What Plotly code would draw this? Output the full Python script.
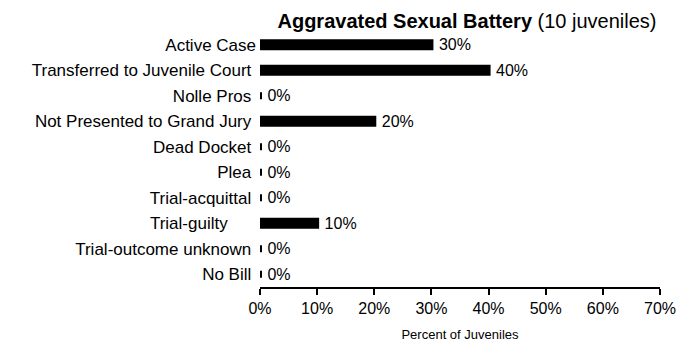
import plotly.graph_objects as go

# Case outcomes for juveniles charged with aggravated sexual battery
categories = [
    "Active Case",
    "Transferred to Juvenile Court\u00a0",
    "Nolle Pros\u00a0",
    "Not Presented to Grand Jury\u00a0",
    "Dead Docket\u00a0",
    "Plea\u00a0",
    "Trial-acquittal\u00a0",
    "Trial-guilty\u00a0\u00a0\u00a0\u00a0\u00a0\u00a0",
    "Trial-outcome unknown\u00a0",
    "No Bill\u00a0",
]
percents = [30, 40, 0, 20, 0, 0, 0, 10, 0, 0]
x_ticks = [0, 10, 20, 30, 40, 50, 60, 70]
x_tick_labels = [f"{v}%" for v in x_ticks]

FONT = "Liberation Sans, Arial, sans-serif"

fig = go.Figure(
    go.Bar(
        x=percents,
        y=categories,
        orientation="h",
        width=0.28,
        marker=dict(color="black", line=dict(color="black", width=4)),
        # leading non-breaking space keeps the value label clear of the bar end
        text=[f"\u00a0{p}%" for p in percents],
        textposition="outside",
        constraintext="none",
        textfont=dict(family=FONT, size=16, color="black"),
        cliponaxis=False,
    )
)

fig.update_layout(
    width=678,
    height=344,
    margin=dict(l=260, r=18, t=32, b=57, autoexpand=False),
    paper_bgcolor="white",
    plot_bgcolor="white",
    showlegend=False,
    font=dict(family=FONT, color="black"),
    title=dict(
        text="<b>Aggravated Sexual Battery</b> (10 juveniles)",
        font=dict(family=FONT, size=20, color="black"),
        x=467 / 678,
        xanchor="center",
        xref="container",
        y=1 - 21 / 344,
        yanchor="middle",
        yref="container",
    ),
    xaxis=dict(
        range=[0, 70],
        tickvals=x_ticks,
        ticktext=x_tick_labels,
        automargin=False,
        showgrid=False,
        zeroline=False,
        showline=True,
        linecolor="black",
        linewidth=1.5,
        ticks="outside",
        ticklen=6,
        tickwidth=1.5,
        tickcolor="black",
        ticklabelstandoff=0,
        tickfont=dict(family=FONT, size=16, color="black"),
        title=dict(
            text="Percent of Juveniles",
            font=dict(family=FONT, size=13, color="black"),
            standoff=14,
        ),
    ),
    yaxis=dict(
        categoryorder="array",
        categoryarray=categories,
        autorange="reversed",
        automargin=False,
        showgrid=False,
        zeroline=False,
        showline=False,
        ticks="",
        ticklabelstandoff=3,
        tickfont=dict(family=FONT, size=17, color="black"),
    ),
)

fig.write_html("out.html")
